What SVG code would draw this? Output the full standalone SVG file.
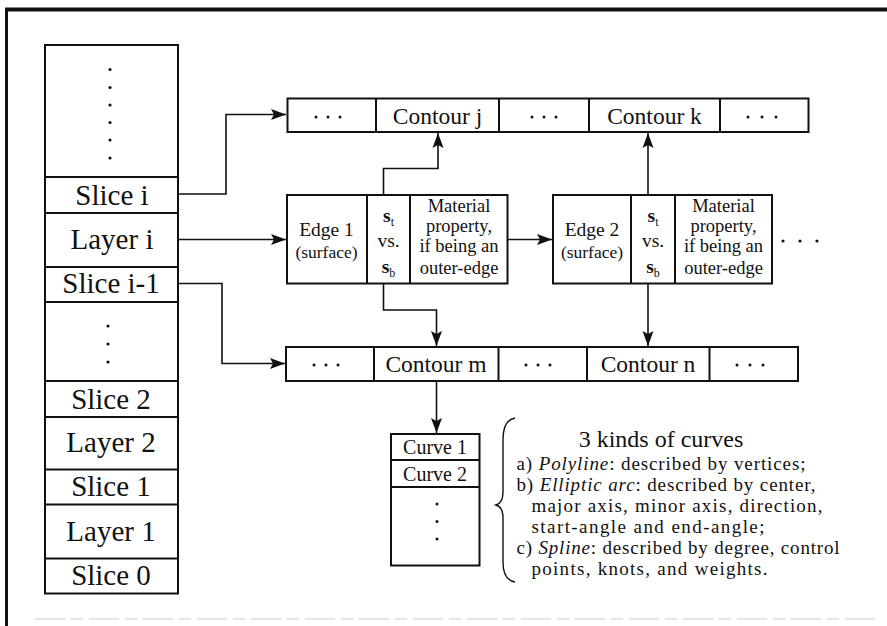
<svg xmlns="http://www.w3.org/2000/svg" width="887" height="626" viewBox="0 0 887 626">
<style>
  text { font-family: "Liberation Serif", "Times New Roman", serif; fill: #111; }
  .box { fill: #fff; stroke: #111; stroke-width: 2; }
  .div { stroke: #111; stroke-width: 2; fill: none; }
  .conn { stroke: #111; stroke-width: 1.6; fill: none; }
  .big { font-size: 29px; text-anchor: middle; }
  .ct { font-size: 23.5px; text-anchor: middle; }
  .ed { font-size: 19.5px; text-anchor: middle; }
  .sm { font-size: 17.5px; text-anchor: middle; }
  .mp { font-size: 18.5px; text-anchor: middle; }
  .cv { font-size: 20px; text-anchor: middle; }
  .ds { font-size: 19px; }
  .dot { fill: #111; }
</style>
<defs>
  <marker id="ah" markerUnits="userSpaceOnUse" markerWidth="16" markerHeight="12" refX="15" refY="6" orient="auto">
    <path d="M0,0.5 L15,6 L0,11.5 L3,6 z" fill="#111"/>
  </marker>
</defs>
<rect width="887" height="626" fill="#fff"/>

<!-- frame -->
<g id="frame">
  <line x1="5" y1="9.5" x2="887" y2="9.5" stroke="#111" stroke-width="4"/>
  <line x1="6.5" y1="8" x2="6.5" y2="626" stroke="#111" stroke-width="3"/>
  <line x1="35" y1="619" x2="880" y2="619" stroke="#ccc" stroke-width="1.2" stroke-dasharray="30,6,12,6"/>
</g>

<!-- left stack -->
<g id="stack">
  <rect class="box" x="45" y="45" width="133" height="548.5"/>
  <line class="div" x1="45" y1="177" x2="178" y2="177"/>
  <line class="div" x1="45" y1="213" x2="178" y2="213"/>
  <line class="div" x1="45" y1="267" x2="178" y2="267"/>
  <line class="div" x1="45" y1="302" x2="178" y2="302"/>
  <line class="div" x1="45" y1="381" x2="178" y2="381"/>
  <line class="div" x1="45" y1="417" x2="178" y2="417"/>
  <line class="div" x1="45" y1="469.5" x2="178" y2="469.5"/>
  <line class="div" x1="45" y1="504.5" x2="178" y2="504.5"/>
  <line class="div" x1="45" y1="558.5" x2="178" y2="558.5"/>
  <circle class="dot" cx="110" cy="69.5" r="1.6"/>
  <circle class="dot" cx="110" cy="87.5" r="1.6"/>
  <circle class="dot" cx="110" cy="105" r="1.6"/>
  <circle class="dot" cx="110" cy="122.5" r="1.6"/>
  <circle class="dot" cx="110" cy="140" r="1.6"/>
  <circle class="dot" cx="110" cy="158" r="1.6"/>
  <circle class="dot" cx="108" cy="326" r="1.6"/>
  <circle class="dot" cx="108" cy="344" r="1.6"/>
  <circle class="dot" cx="108" cy="362" r="1.6"/>
</g>
<g id="slice-i"><text class="big" x="112" y="205">Slice i</text></g>
<g id="layer-i"><text class="big" x="112" y="248.5">Layer i</text></g>
<g id="slice-i-1"><text class="big" x="111" y="292.5">Slice i-1</text></g>
<g id="slice-2"><text class="big" x="111" y="408.5">Slice 2</text></g>
<g id="layer-2"><text class="big" x="111" y="452">Layer 2</text></g>
<g id="slice-1"><text class="big" x="111" y="496">Slice 1</text></g>
<g id="layer-1"><text class="big" x="111" y="540.5">Layer 1</text></g>
<g id="slice-0"><text class="big" x="111" y="584.5">Slice 0</text></g>

<!-- top contour row -->
<g id="contour-row-top">
  <rect class="box" x="287.5" y="98.5" width="521" height="33.5"/>
  <line class="div" x1="376" y1="98.5" x2="376" y2="132"/>
  <line class="div" x1="499" y1="98.5" x2="499" y2="132"/>
  <line class="div" x1="589" y1="98.5" x2="589" y2="132"/>
  <line class="div" x1="720" y1="98.5" x2="720" y2="132"/>
  <circle class="dot" cx="316" cy="117" r="1.5"/><circle class="dot" cx="328" cy="117" r="1.5"/><circle class="dot" cx="340" cy="117" r="1.5"/>
  <circle class="dot" cx="532" cy="117" r="1.5"/><circle class="dot" cx="544" cy="117" r="1.5"/><circle class="dot" cx="556" cy="117" r="1.5"/>
  <circle class="dot" cx="748" cy="117" r="1.5"/><circle class="dot" cx="762" cy="117" r="1.5"/><circle class="dot" cx="776" cy="117" r="1.5"/>
</g>
<g id="contour-j"><text class="ct" x="437.5" y="123.5">Contour j</text></g>
<g id="contour-k"><text class="ct" x="654.5" y="123.5">Contour k</text></g>

<!-- bottom contour row -->
<g id="contour-row-bottom">
  <rect class="box" x="286" y="347" width="512" height="34"/>
  <line class="div" x1="374" y1="347" x2="374" y2="381"/>
  <line class="div" x1="498.5" y1="347" x2="498.5" y2="381"/>
  <line class="div" x1="587" y1="347" x2="587" y2="381"/>
  <line class="div" x1="709.5" y1="347" x2="709.5" y2="381"/>
  <circle class="dot" cx="314" cy="365" r="1.5"/><circle class="dot" cx="326" cy="365" r="1.5"/><circle class="dot" cx="338" cy="365" r="1.5"/>
  <circle class="dot" cx="526" cy="365" r="1.5"/><circle class="dot" cx="538" cy="365" r="1.5"/><circle class="dot" cx="550" cy="365" r="1.5"/>
  <circle class="dot" cx="737" cy="365" r="1.5"/><circle class="dot" cx="750" cy="365" r="1.5"/><circle class="dot" cx="763" cy="365" r="1.5"/>
</g>
<g id="contour-m"><text class="ct" x="436" y="371.5">Contour m</text></g>
<g id="contour-n"><text class="ct" x="648" y="371.5">Contour n</text></g>

<!-- edge 1 -->
<g id="edge-1">
  <rect class="box" x="287" y="195" width="220.5" height="88.5"/>
  <line class="div" x1="367" y1="195" x2="367" y2="283.5"/>
  <line class="div" x1="410" y1="195" x2="410" y2="283.5"/>
  <text class="ed" x="326.5" y="236">Edge 1</text>
  <text class="sm" x="326.5" y="258">(surface)</text>
  <text class="ed" x="388.5" y="222" font-weight="bold">s<tspan font-size="12" font-weight="normal" dy="4">t</tspan></text>
  <text class="ed" x="388.5" y="247">vs.</text>
  <text class="ed" x="388.5" y="273" font-weight="bold">s<tspan font-size="12" font-weight="normal" dy="4">b</tspan></text>
  <text class="mp" x="459" y="211.5">Material</text>
  <text class="mp" x="459" y="231.5">property,</text>
  <text class="mp" x="459" y="252">if being an</text>
  <text class="mp" x="459" y="274">outer-edge</text>
</g>

<!-- edge 2 -->
<g id="edge-2">
  <rect class="box" x="553" y="195" width="219" height="88.5"/>
  <line class="div" x1="631" y1="195" x2="631" y2="283.5"/>
  <line class="div" x1="675" y1="195" x2="675" y2="283.5"/>
  <text class="ed" x="592" y="236">Edge 2</text>
  <text class="sm" x="592" y="258">(surface)</text>
  <text class="ed" x="653" y="222" font-weight="bold">s<tspan font-size="12" font-weight="normal" dy="4">t</tspan></text>
  <text class="ed" x="653" y="247">vs.</text>
  <text class="ed" x="653" y="273" font-weight="bold">s<tspan font-size="12" font-weight="normal" dy="4">b</tspan></text>
  <text class="mp" x="723.5" y="211.5">Material</text>
  <text class="mp" x="723.5" y="231.5">property,</text>
  <text class="mp" x="723.5" y="252">if being an</text>
  <text class="mp" x="723.5" y="274">outer-edge</text>
</g>
<g id="edge-more">
  <circle class="dot" cx="783" cy="241" r="1.6"/><circle class="dot" cx="800" cy="241" r="1.6"/><circle class="dot" cx="817" cy="241" r="1.6"/>
</g>

<!-- curves -->
<g id="curves">
  <rect class="box" x="391" y="434" width="88.5" height="131.5"/>
  <line class="div" x1="391" y1="460" x2="479.5" y2="460"/>
  <line class="div" x1="391" y1="487" x2="479.5" y2="487"/>
  <text class="cv" x="435" y="454">Curve 1</text>
  <text class="cv" x="435" y="480.5">Curve 2</text>
  <circle class="dot" cx="437" cy="504" r="1.5"/>
  <circle class="dot" cx="437" cy="521.5" r="1.5"/>
  <circle class="dot" cx="437" cy="539" r="1.5"/>
</g>

<!-- description -->
<g id="description">
  <path d="M515,418 Q503,420 503,440 L503,492 Q503,503 496,505 Q503,507 503,518 L503,562 Q503,580 515,582" fill="none" stroke="#111" stroke-width="1.4"/>
  <text x="661" y="446.5" font-size="24" text-anchor="middle">3 kinds of curves</text>
  <text class="ds" x="516.5" y="469.5" textLength="289" lengthAdjust="spacing">a) <tspan font-style="italic">Polyline</tspan>: described by vertices;</text>
  <text class="ds" x="516.5" y="490.5" textLength="299" lengthAdjust="spacing">b) <tspan font-style="italic">Elliptic arc</tspan>: described by center,</text>
  <text class="ds" x="531.5" y="511.5" textLength="291" lengthAdjust="spacing">major axis, minor axis, direction,</text>
  <text class="ds" x="531.5" y="532.5" textLength="233" lengthAdjust="spacing">start-angle and end-angle;</text>
  <text class="ds" x="516.5" y="553.5" textLength="323" lengthAdjust="spacing">c) <tspan font-style="italic">Spline</tspan>: described by degree, control</text>
  <text class="ds" x="531.5" y="574.5" textLength="236" lengthAdjust="spacing">points, knots, and weights.</text>
</g>

<!-- connectors -->
<g id="connectors">
  <path class="conn" d="M178,194 H226 V114.5 H286" marker-end="url(#ah)"/>
  <path class="conn" d="M178,239.5 H286" marker-end="url(#ah)"/>
  <path class="conn" d="M178,283.5 H222 V363.5 H285" marker-end="url(#ah)"/>
  <path class="conn" d="M508,239.5 H552" marker-end="url(#ah)"/>
  <path class="conn" d="M383.5,195 V168.5 H438 V133" marker-end="url(#ah)"/>
  <path class="conn" d="M383.5,283.5 V310 H436.5 V346" marker-end="url(#ah)"/>
  <path class="conn" d="M648,195 V133" marker-end="url(#ah)"/>
  <path class="conn" d="M648,283.5 V346" marker-end="url(#ah)"/>
  <path class="conn" d="M436.5,381 V433" marker-end="url(#ah)"/>
</g>
</svg>
